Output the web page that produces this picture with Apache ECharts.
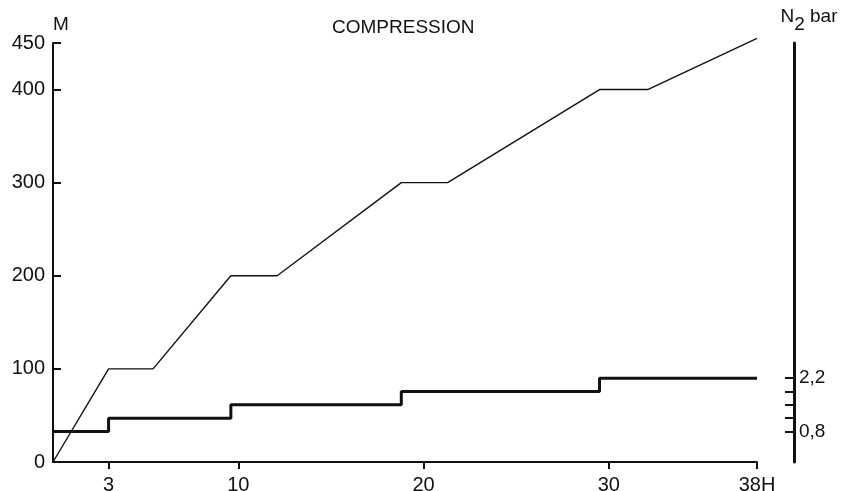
<!DOCTYPE html>
<html>
<head>
<meta charset="utf-8">
<script src="https://cdn.jsdelivr.net/npm/echarts@6/dist/echarts.min.js"></script>
<style>
  html, body { margin: 0; padding: 0; background: #fff; }
  #chart { width: 842px; height: 491px; }
</style>
</head>
<body>
<div id="chart"></div>
<script>
// Depth profile during compression (metres vs hours)
const depthHours = [0, 3, 5.4, 9.6, 12.1, 18.8, 21.3, 29.5, 32.1, 38];
const depthMetres = [0, 100, 100, 200, 200, 300, 300, 400, 400, 455];

// Nitrogen partial pressure, stepped (bar vs hours)
const n2Hours = [0, 3, 9.6, 18.8, 29.5, 38];
const n2Bar = [0.8, 1.15, 1.5, 1.85, 2.2, 2.2];

// Axis ticks and labels
const hourTicks = [3, 10, 20, 30, 38];
const depthTicks = [0, 100, 200, 300, 400, 450];
const n2Ticks = [0.8, 1.15, 1.5, 1.85, 2.2];
const n2Labels = [0.8, 2.2];

const FONT = "'Liberation Sans', 'DejaVu Sans', sans-serif";
const INK = '#111';

const chart = echarts.init(document.getElementById('chart'), null, { renderer: 'canvas' });

chart.setOption({
  backgroundColor: '#fff',
  animation: false,
  title: {
    text: 'COMPRESSION',
    left: 327,
    top: 13,
    textStyle: { fontFamily: FONT, fontSize: 19, fontWeight: 'normal', color: INK }
  },
  grid: {
    left: 53, right: 85, top: 43, bottom: 29,
    containLabel: false,
    outerBoundsMode: 'none'
  },
  xAxis: {
    type: 'value',
    min: 0,
    max: 38,
    axisLine: { show: true, lineStyle: { color: INK, width: 2 } },
    axisTick: { show: true, inside: false, length: 7, lineStyle: { color: INK, width: 2 }, customValues: hourTicks },
    axisLabel: {
      show: true,
      customValues: hourTicks,
      margin: 13,
      fontFamily: FONT,
      fontSize: 20,
      color: INK,
      formatter: v => (v === 38 ? '38H' : String(v))
    },
    splitLine: { show: false }
  },
  yAxis: [
    {
      type: 'value',
      position: 'left',
      min: 0,
      max: 450,
      name: 'M',
      nameLocation: 'end',
      nameGap: 9,
      nameTextStyle: { fontFamily: FONT, fontSize: 19, color: INK, align: 'left' },
      axisLine: { show: true, lineStyle: { color: INK, width: 2 } },
      axisTick: { show: true, inside: true, length: 8, lineStyle: { color: INK, width: 2 }, customValues: depthTicks },
      axisLabel: { show: true, customValues: depthTicks, margin: 8, fontFamily: FONT, fontSize: 20, color: INK },
      splitLine: { show: false }
    },
    {
      type: 'value',
      position: 'right',
      offset: 37,
      min: 0,
      max: 11,
      name: '{n|N}{s|2}{n| bar}',
      nameLocation: 'end',
      nameGap: 9,
      nameTextStyle: {
        fontFamily: FONT,
        color: INK,
        align: 'center',
        padding: [0, 0, 0, 30],
        rich: {
          n: { fontFamily: FONT, fontSize: 19, color: INK, lineHeight: 19, verticalAlign: 'top' },
          s: { fontFamily: FONT, fontSize: 19, color: INK, lineHeight: 27, verticalAlign: 'bottom' }
        }
      },
      axisLine: { show: true, lineStyle: { color: INK, width: 3 } },
      axisTick: { show: true, inside: true, length: 9, lineStyle: { color: INK, width: 2 }, customValues: n2Ticks },
      axisLabel: {
        show: true,
        customValues: n2Labels,
        margin: 5,
        fontFamily: FONT,
        fontSize: 19,
        color: INK,
        formatter: v => v.toFixed(1).replace('.', ',')
      },
      splitLine: { show: false }
    }
  ],
  series: [
    {
      name: 'Depth',
      type: 'line',
      yAxisIndex: 0,
      data: depthHours.map((h, i) => [h, depthMetres[i]]),
      showSymbol: false,
      clip: false,
      lineStyle: { color: INK, width: 1.4 }
    },
    {
      name: 'N2',
      type: 'line',
      yAxisIndex: 1,
      step: 'end',
      data: n2Hours.map((h, i) => [h, n2Bar[i]]),
      showSymbol: false,
      clip: false,
      lineStyle: { color: INK, width: 3 }
    }
  ]
});
</script>
</body>
</html>
